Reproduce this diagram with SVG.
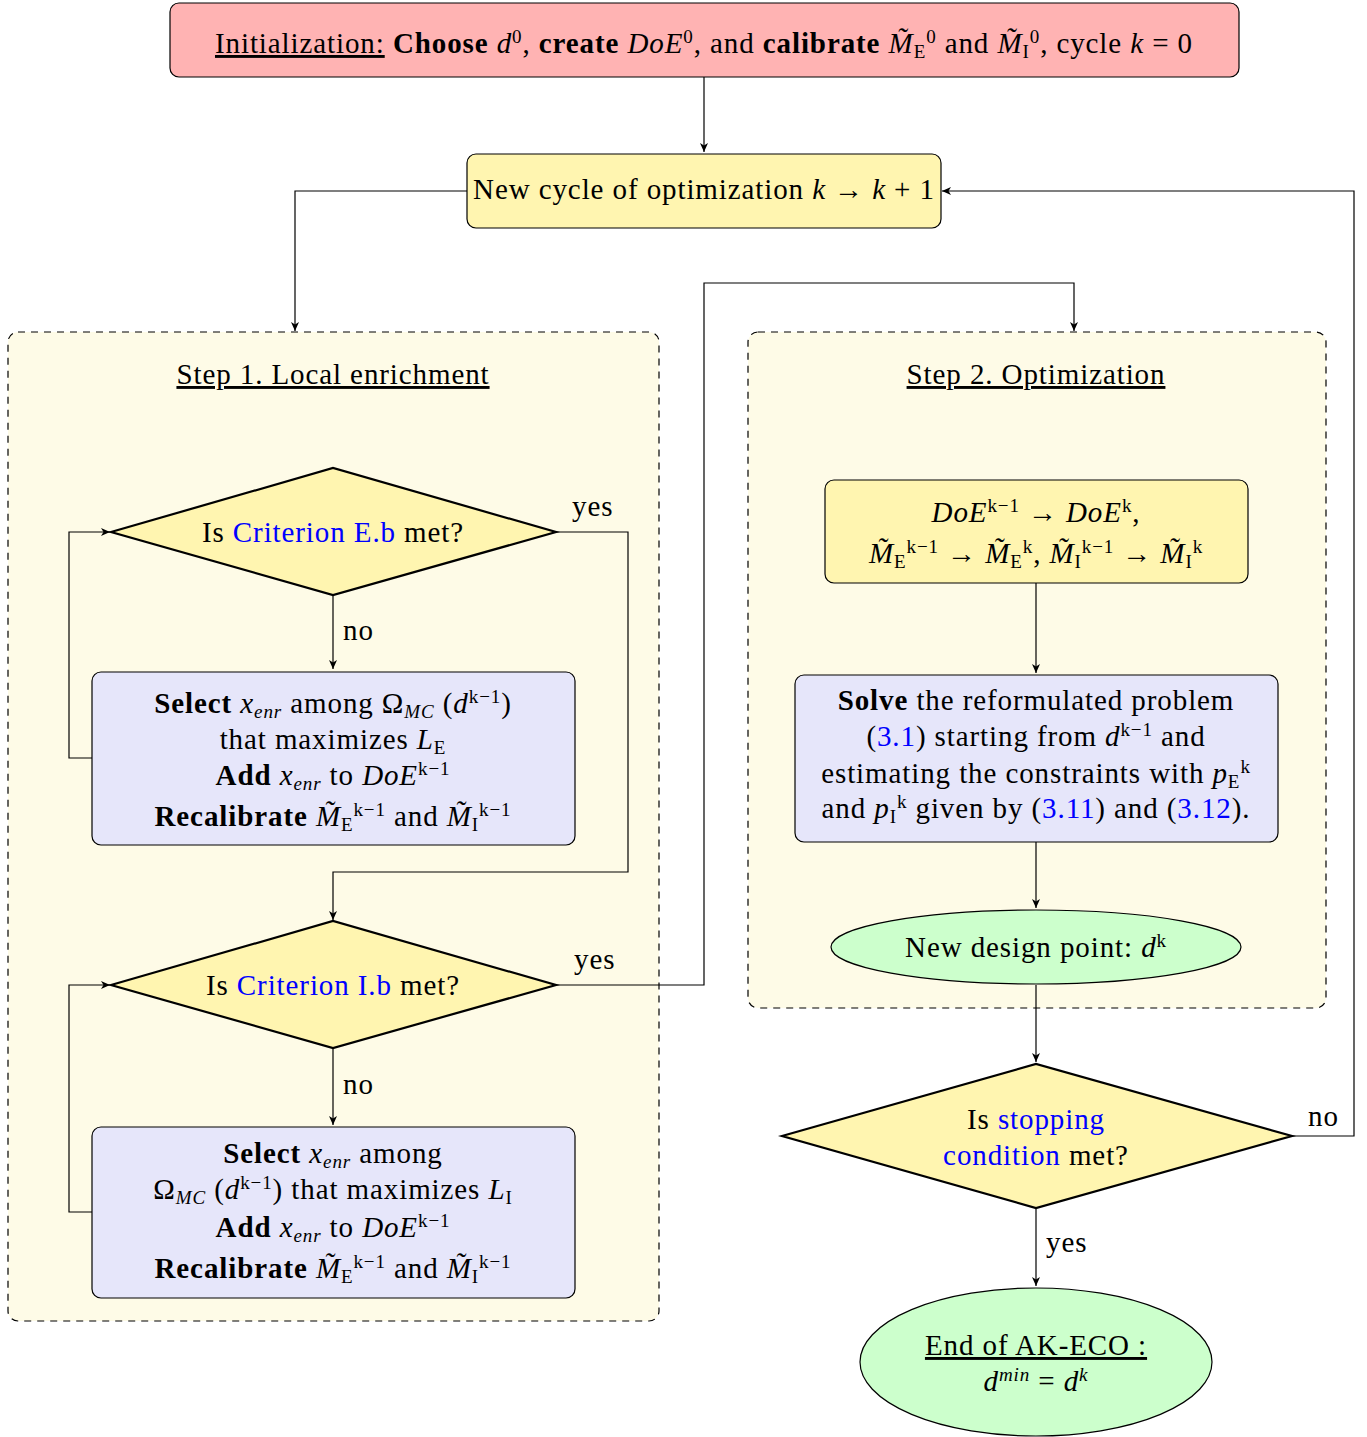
<svg xmlns="http://www.w3.org/2000/svg" width="1367" height="1437" viewBox="0 0 1367 1437">
<defs>
<style>
text{font-family:"Liberation Serif","DejaVu Serif",serif;font-size:29px;letter-spacing:0.9px;fill:#000;}
.c{text-anchor:middle;}
.b{font-weight:bold;}
.i{font-style:italic;}
.u{text-decoration:underline;}
.sup{font-size:19px;baseline-shift:10px;}
.sub{font-size:19px;baseline-shift:-5px;}
.lk{fill:#0000ff;}
.box{stroke:#000;stroke-width:1.2;}
.pink{fill:#ffb3b3;}
.yel{fill:#fff5b0;}
.lav{fill:#e6e6fa;}
.grn{fill:#ccffcc;}
.dia{fill:#fff5b0;stroke:#000;stroke-width:2.2;}
.step{fill:#fefbe7;stroke:#000;stroke-width:1.2;stroke-dasharray:7,6;}
.con{fill:none;stroke:#000;stroke-width:1.2;}
</style>
<marker id="ah" markerWidth="10" markerHeight="8" refX="9" refY="4" orient="auto" markerUnits="userSpaceOnUse">
<path d="M0,0 L9,4 L0,8 L2.5,4 z" fill="#000"/>
</marker>
</defs>
<rect width="1367" height="1437" fill="#fff"/>

<g id="step1">
<rect class="step" x="8" y="332" width="651" height="989" rx="10"/>
<text class="c u" x="333" y="384">Step 1. Local enrichment</text>
</g>
<g id="step2">
<rect class="step" x="748" y="332" width="578" height="676" rx="10"/>
<text class="c u" x="1036" y="384">Step 2. Optimization</text>
</g>

<g id="connectors">
<path class="con" d="M704,77 V152" marker-end="url(#ah)"/>
<path class="con" d="M467,191 H295 V331" marker-end="url(#ah)"/>
<path class="con" d="M333,595 V669" marker-end="url(#ah)"/>
<path class="con" d="M92,758 H69 V532 H110" marker-end="url(#ah)"/>
<path class="con" d="M556,532 H628 V872 H333 V920" marker-end="url(#ah)"/>
<path class="con" d="M333,1048 V1125" marker-end="url(#ah)"/>
<path class="con" d="M92,1212 H69 V985 H110" marker-end="url(#ah)"/>
<path class="con" d="M556,985 H704 V283 H1074 V331" marker-end="url(#ah)"/>
<path class="con" d="M1036,583 V673" marker-end="url(#ah)"/>
<path class="con" d="M1036,842 V908" marker-end="url(#ah)"/>
<path class="con" d="M1036,985 V1062" marker-end="url(#ah)"/>
<path class="con" d="M1292,1136 H1354 V191 H942" marker-end="url(#ah)"/>
<path class="con" d="M1036,1208 V1286" marker-end="url(#ah)"/>
<text x="572" y="516">yes</text>
<text x="343" y="640">no</text>
<text x="574" y="969">yes</text>
<text x="343" y="1094">no</text>
<text x="1308" y="1126">no</text>
<text x="1046" y="1252">yes</text>
</g>

<g id="init">
<rect class="box pink" x="170" y="3" width="1069" height="74" rx="9"/>
<text class="c" x="704" y="53" letter-spacing="1.5"><tspan class="u">Initialization:</tspan> <tspan class="b">Choose</tspan> <tspan class="i">d</tspan><tspan class="sup">0</tspan>, <tspan class="b">create</tspan> <tspan class="i">DoE</tspan><tspan class="sup">0</tspan>, and <tspan class="b">calibrate</tspan> <tspan class="i">M̃</tspan><tspan class="sub">E</tspan><tspan class="sup">0</tspan> and <tspan class="i">M̃</tspan><tspan class="sub">I</tspan><tspan class="sup">0</tspan>, cycle <tspan class="i">k</tspan> = 0</text>
</g>

<g id="newcycle">
<rect class="box yel" x="467" y="154" width="474" height="74" rx="9"/>
<text class="c" x="704" y="199">New cycle of optimization <tspan class="i">k</tspan> → <tspan class="i">k</tspan> + 1</text>
</g>

<g id="critE">
<polygon class="dia" points="111,532 333,468 556,532 333,595"/>
<text class="c" x="333" y="542">Is <tspan class="lk">Criterion E.b</tspan> met?</text>
</g>

<g id="select1">
<rect class="box lav" x="92" y="672" width="483" height="173" rx="9"/>
<text class="c" x="333" y="713"><tspan class="b">Select</tspan> <tspan class="i">x</tspan><tspan class="sub i">enr</tspan> among Ω<tspan class="sub i">MC</tspan> (<tspan class="i">d</tspan><tspan class="sup">k−1</tspan>)</text>
<text class="c" x="333" y="749">that maximizes <tspan class="i">L</tspan><tspan class="sub">E</tspan></text>
<text class="c" x="333" y="785"><tspan class="b">Add</tspan> <tspan class="i">x</tspan><tspan class="sub i">enr</tspan> to <tspan class="i">DoE</tspan><tspan class="sup">k−1</tspan></text>
<text class="c" x="333" y="826"><tspan class="b">Recalibrate</tspan> <tspan class="i">M̃</tspan><tspan class="sub">E</tspan><tspan class="sup">k−1</tspan> and <tspan class="i">M̃</tspan><tspan class="sub">I</tspan><tspan class="sup">k−1</tspan></text>
</g>

<g id="critI">
<polygon class="dia" points="111,985 333,921 556,985 333,1048"/>
<text class="c" x="333" y="995">Is <tspan class="lk">Criterion I.b</tspan> met?</text>
</g>

<g id="select2">
<rect class="box lav" x="92" y="1127" width="483" height="171" rx="9"/>
<text class="c" x="333" y="1163"><tspan class="b">Select</tspan> <tspan class="i">x</tspan><tspan class="sub i">enr</tspan> among</text>
<text class="c" x="333" y="1199">Ω<tspan class="sub i">MC</tspan> (<tspan class="i">d</tspan><tspan class="sup">k−1</tspan>) that maximizes <tspan class="i">L</tspan><tspan class="sub">I</tspan></text>
<text class="c" x="333" y="1237"><tspan class="b">Add</tspan> <tspan class="i">x</tspan><tspan class="sub i">enr</tspan> to <tspan class="i">DoE</tspan><tspan class="sup">k−1</tspan></text>
<text class="c" x="333" y="1278"><tspan class="b">Recalibrate</tspan> <tspan class="i">M̃</tspan><tspan class="sub">E</tspan><tspan class="sup">k−1</tspan> and <tspan class="i">M̃</tspan><tspan class="sub">I</tspan><tspan class="sup">k−1</tspan></text>
</g>

<g id="update">
<rect class="box yel" x="825" y="480" width="423" height="103" rx="9"/>
<text class="c" x="1036" y="522"><tspan class="i">DoE</tspan><tspan class="sup">k−1</tspan> → <tspan class="i">DoE</tspan><tspan class="sup">k</tspan>,</text>
<text class="c" x="1036" y="563"><tspan class="i">M̃</tspan><tspan class="sub">E</tspan><tspan class="sup">k−1</tspan> → <tspan class="i">M̃</tspan><tspan class="sub">E</tspan><tspan class="sup">k</tspan>, <tspan class="i">M̃</tspan><tspan class="sub">I</tspan><tspan class="sup">k−1</tspan> → <tspan class="i">M̃</tspan><tspan class="sub">I</tspan><tspan class="sup">k</tspan></text>
</g>

<g id="solve">
<rect class="box lav" x="795" y="675" width="483" height="167" rx="9"/>
<text class="c" x="1036" y="710"><tspan class="b">Solve</tspan> the reformulated problem</text>
<text class="c" x="1036" y="746">(<tspan class="lk">3.1</tspan>) starting from <tspan class="i">d</tspan><tspan class="sup">k−1</tspan> and</text>
<text class="c" x="1036" y="783">estimating the constraints with <tspan class="i">p</tspan><tspan class="sub">E</tspan><tspan class="sup">k</tspan></text>
<text class="c" x="1036" y="818">and <tspan class="i">p</tspan><tspan class="sub">I</tspan><tspan class="sup">k</tspan> given by (<tspan class="lk">3.11</tspan>) and (<tspan class="lk">3.12</tspan>).</text>
</g>

<g id="newpoint">
<ellipse class="box grn" cx="1036" cy="947" rx="205" ry="37"/>
<text class="c" x="1036" y="957">New design point: <tspan class="i">d</tspan><tspan class="sup">k</tspan></text>
</g>

<g id="stop">
<polygon class="dia" points="782,1136 1036,1064 1292,1136 1036,1208"/>
<text class="c" x="1036" y="1129">Is <tspan class="lk">stopping</tspan></text>
<text class="c" x="1036" y="1165"><tspan class="lk">condition</tspan> met?</text>
</g>

<g id="end">
<ellipse class="box grn" cx="1036" cy="1362" rx="176" ry="74"/>
<text class="c u" x="1036" y="1355">End of AK-ECO :</text>
<text class="c" x="1036" y="1391"><tspan class="i">d</tspan><tspan class="sup i">min</tspan> = <tspan class="i">d</tspan><tspan class="sup i">k</tspan></text>
</g>
</svg>
